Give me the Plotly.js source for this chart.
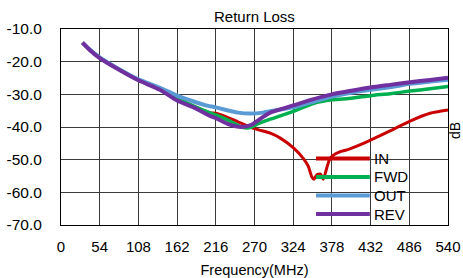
<!DOCTYPE html>
<html>
<head>
<meta charset="utf-8">
<script src="https://cdn.plot.ly/plotly-3.0.1.min.js"></script>
<style>html,body{margin:0;padding:0;background:#fff;}#chart{width:463px;height:278px;}</style>
</head>
<body>
<div id="chart"></div>
<script>
const seriesNames = ["IN", "FWD", "OUT", "REV"];
const seriesColors = ["#C80000", "#00B050", "#5B9BD5", "#7030A0"];
const xTicks = [0, 54, 108, 162, 216, 270, 324, 378, 432, 486, 540];
const yTicks = [-70, -60, -50, -40, -30, -20, -10];

const inX = [30, 40, 54, 78, 108, 138, 162, 185, 208, 216, 230, 247, 270, 292, 306, 324, 338, 345, 350, 353, 357, 362, 366, 371, 375, 380, 389, 399, 422, 440, 459, 487, 515, 540];
const inY = [-14.2, -16.3, -18.8, -22.0, -25.6, -28.4, -31.2, -33.6, -35.6, -35.8, -36.8, -38.4, -40.5, -41.9, -43.4, -46.3, -49.6, -52.0, -55.3, -56.0, -54.6, -54.4, -56.0, -52.4, -49.8, -48.6, -47.6, -47.0, -45.0, -43.2, -41.2, -38.2, -35.8, -34.8];

const fwdX = [30, 40, 54, 78, 108, 138, 162, 185, 208, 216, 233, 252, 264, 275, 292, 306, 324, 352, 378, 405, 432, 459, 487, 515, 540];
const fwdY = [-14.2, -16.3, -18.8, -22.0, -25.6, -28.4, -31.2, -33.6, -35.7, -36.3, -37.9, -40.0, -40.2, -39.0, -37.6, -36.6, -35.2, -32.8, -31.7, -31.2, -30.4, -29.8, -29.0, -28.3, -27.6];

const outX = [30, 40, 54, 78, 108, 138, 162, 185, 201, 216, 247, 265, 282, 300, 324, 350, 378, 405, 432, 459, 487, 515, 540];
const outY = [-14.2, -16.3, -18.7, -21.9, -25.4, -28.0, -30.4, -32.2, -33.3, -34.0, -35.6, -35.9, -35.6, -34.9, -34.0, -32.4, -30.7, -29.5, -28.6, -27.8, -26.8, -26.1, -25.5];

const revX = [30, 40, 54, 78, 108, 138, 162, 185, 208, 216, 233, 252, 266, 280, 292, 306, 324, 350, 378, 405, 432, 459, 487, 515, 540];
const revY = [-14.2, -16.4, -18.9, -22.1, -25.7, -28.6, -31.9, -34.0, -36.6, -37.3, -39.1, -40.0, -39.3, -37.2, -35.6, -34.6, -33.4, -31.6, -30.0, -28.9, -27.9, -27.1, -26.3, -25.6, -24.9];

const xs = [inX, fwdX, outX, revX];
const ys = [inY, fwdY, outY, revY];
const widths = [3, 3.5, 4, 4];

const FONT = 'Liberation Sans, Arial';

const traces = seriesNames.map((n, i) => ({
  type: 'scatter', mode: 'lines', name: n,
  x: xs[i], y: ys[i],
  line: {color: seriesColors[i], width: widths[i], shape: 'spline', smoothing: 0.6},
  showlegend: false, hoverinfo: 'skip'
}));

const legX0 = 0.659, legX1 = 0.798, legTx = 0.804;
const legY = [0.339, 0.245, 0.151, 0.056];
const shapes = seriesNames.map((n, i) => ({
  type: 'line', xref: 'paper', yref: 'paper', layer: 'above',
  x0: legX0, x1: legX1, y0: legY[i], y1: legY[i],
  line: {color: seriesColors[i], width: 4}
}));
const annotations = seriesNames.map((n, i) => ({
  xref: 'paper', yref: 'paper', x: legTx, y: legY[i], xanchor: 'left', yanchor: 'middle',
  text: n, showarrow: false, font: {family: FONT, size: 15, color: '#000'}
}));
annotations.push({
  xref: 'paper', yref: 'paper', x: 1, y: 0.48, xanchor: 'center', yanchor: 'middle', xshift: 7,
  text: 'dB', textangle: -90, showarrow: false,
  font: {family: FONT, size: 14, color: '#000'}
});
annotations.push({
  xref: 'paper', yref: 'paper', x: 0.5, y: 1, xanchor: 'center', yanchor: 'bottom', yshift: 2,
  text: 'Return Loss', showarrow: false,
  font: {family: FONT, size: 15, color: '#000'}
});

const layout = {
  width: 463, height: 278,
  margin: {l: 61, r: 15, t: 29, b: 53},
  paper_bgcolor: '#fff', plot_bgcolor: '#fff',
  font: {family: FONT, size: 15, color: '#000'},
  xaxis: {
    range: [0, 540], tickvals: xTicks, ticktext: xTicks.map(String),
    showgrid: true, gridcolor: '#3a3a3a', gridwidth: 1,
    showline: true, linecolor: '#000', linewidth: 1, mirror: true,
    ticks: '', zeroline: false, ticklabelstandoff: 8,
    tickfont: {size: 15},
    title: {text: 'Frequency(MHz)', font: {size: 14.5}, standoff: 10}
  },
  yaxis: {
    range: [-70, -10], tickvals: yTicks, ticktext: yTicks.map(v => v.toFixed(1)),
    showgrid: true, gridcolor: '#3a3a3a', gridwidth: 1,
    showline: true, linecolor: '#000', linewidth: 1, mirror: true,
    ticks: '', zeroline: false, ticklabelstandoff: 15,
    tickfont: {size: 15.5}
  },
  shapes: shapes,
  annotations: annotations,
  showlegend: false
};

Plotly.newPlot('chart', traces, layout, {staticPlot: true, displayModeBar: false});
</script>
</body>
</html>
